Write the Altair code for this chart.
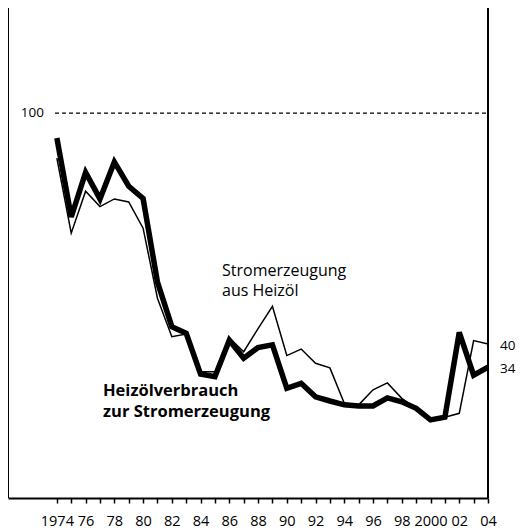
import altair as alt
import pandas as pd

years = list(range(1974, 2005))
heizoel_verbrauch = [93.5, 73.0, 84.6, 77.7, 87.3, 81.0, 77.8, 56.1, 44.5, 42.8,
                     32.2, 31.5, 41.0, 36.3, 39.1, 39.8, 28.5, 29.8, 26.3, 25.2,
                     24.2, 23.9, 23.9, 26.0, 25.0, 23.3, 20.3, 21.0, 43.0, 31.9, 34.0]
strom_aus_heizoel = [88.3, 68.8, 79.7, 75.7, 77.7, 76.9, 70.1, 51.9, 41.9, 42.6,
                     32.8, 32.8, 41.6, 38.0, 44.0, 49.8, 37.0, 38.7, 35.0, 33.8,
                     24.6, 24.2, 28.1, 29.9, 25.9, 23.3, 20.7, 21.0, 22.0, 40.9, 40.0]
ref_value = [100]
end_values = [40, 34]
end_labels = ["40", "34"]
frame_x = [1970.6, 2004]

FONT = "Open Sans"
W, H = 480, 490
xs = alt.Scale(domain=[1970.6, 2004], nice=False, zero=False)
ys = alt.Scale(domain=[0, 127.3], nice=False, zero=False)

df_thick = pd.DataFrame({"year": years, "value": heizoel_verbrauch})
df_thin = pd.DataFrame({"year": years, "value": strom_aus_heizoel})

label_expr = ("datum.value % 2 != 0 ? '' : ((datum.value == 1974 || datum.value == 2000) "
              "? '' + datum.value : substring('' + datum.value, 2, 4))")

x_axis = alt.Axis(values=years, labelExpr=label_expr, title=None, grid=False,
                  domain=True, domainColor="black", domainWidth=2,
                  ticks=True, tickSize=5, tickWidth=1.5, tickColor="black",
                  labelFontSize=14.5, labelFont=FONT, labelColor="black",
                  labelPadding=11, labelFlush=False, labelOverlap=False)

X = alt.X("year:Q", scale=xs, axis=x_axis)

thick = alt.Chart(df_thick).mark_line(color="black", strokeWidth=5.5).encode(
    x=X,
    y=alt.Y("value:Q", scale=ys, axis=None),
)
thin = alt.Chart(df_thin).mark_line(color="black", strokeWidth=1.5).encode(
    x=X,
    y=alt.Y("value:Q", scale=ys, axis=None),
)

frame = alt.Chart(pd.DataFrame({"year": frame_x})).mark_rule(color="black", strokeWidth=2).encode(
    x=X,
    y=alt.value(0),
    y2=alt.value(H),
)

ref_df = pd.DataFrame({"value": ref_value, "t": [str(v) for v in ref_value]})
ref_line = alt.Chart(ref_df).mark_rule(color="black", strokeWidth=1.3, strokeDash=[4, 3]).encode(
    y=alt.Y("value:Q", scale=ys, axis=None),
    x=alt.value(47),
    x2=alt.value(W),
)
ref_text = alt.Chart(ref_df).mark_text(font=FONT, fontSize=13.5, align="right", baseline="middle",
                                       color="black").encode(
    y=alt.Y("value:Q", scale=ys, axis=None),
    x=alt.value(36),
    text="t:N",
)

end_df = pd.DataFrame({"value": end_values, "t": end_labels})
end_text = alt.Chart(end_df).mark_text(font=FONT, fontSize=13.5, align="left", baseline="middle",
                                       color="black", dy=2).encode(
    y=alt.Y("value:Q", scale=ys, axis=None),
    x=alt.value(492),
    text="t:N",
)

ann1 = alt.Chart(pd.DataFrame({"t": ["Stromerzeugung\naus Heizöl"]})).mark_text(
    font=FONT, fontSize=16, align="left", baseline="top", color="black",
    lineBreak="\n", lineHeight=20).encode(
    x=alt.value(214), y=alt.value(255), text="t:N")

ann2 = alt.Chart(pd.DataFrame({"t": ["Heizölverbrauch\nzur Stromerzeugung"]})).mark_text(
    font=FONT, fontSize=16.5, fontWeight="bold", align="left", baseline="top", color="black",
    lineBreak="\n", lineHeight=21).encode(
    x=alt.value(95), y=alt.value(375), text="t:N")

chart = alt.layer(frame, ref_line, ref_text, thick, thin, end_text, ann1, ann2).properties(
    width=W, height=H,
    autosize=alt.AutoSizeParams(type="none"),
    padding={"left": 0, "top": 0, "right": 30, "bottom": 32},
    background="white",
).configure_view(stroke=None)

chart.save("out.html", embed_options={"renderer": "svg", "actions": False})
